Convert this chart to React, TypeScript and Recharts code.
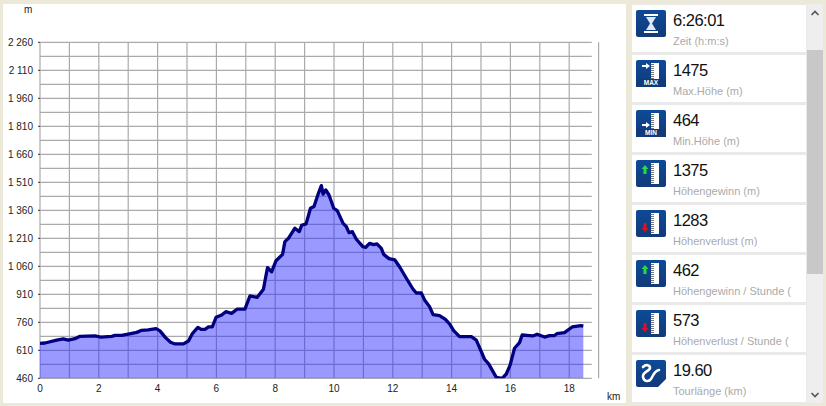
import React from 'react';
import { ComposedChart, Area, XAxis, YAxis, CartesianGrid } from 'recharts';

const distanceKm = [0,0.17,0.57,0.79,0.96,1.19,1.36,1.87,2.07,2.44,2.55,2.78,3,3.29,3.46,3.68,3.95,4.08,4.27,4.44,4.59,4.88,5.05,5.19,5.37,5.48,5.61,5.73,5.86,5.99,6.18,6.32,6.52,6.71,6.97,7.14,7.39,7.6,7.68,7.74,7.88,8.03,8.25,8.33,8.45,8.67,8.82,8.9,9.05,9.2,9.32,9.47,9.57,9.63,9.72,9.83,9.99,10.11,10.31,10.42,10.51,10.62,10.76,10.98,11.08,11.21,11.35,11.46,11.61,11.69,11.87,12.07,12.24,12.46,12.69,12.8,12.97,13.08,13.25,13.37,13.59,13.79,13.93,14.07,14.27,14.67,14.84,15.01,15.12,15.26,15.41,15.52,15.72,15.86,15.99,16.14,16.31,16.4,16.65,16.76,16.91,17.16,17.33,17.5,17.58,17.84,18.1,18.4,18.48];
const elevationM = [647,649,665,671,664,672,685,687,681,685,690,690,697,706,717,719,726,714,678,653,644,644,660,701,733,722,722,735,735,787,799,817,808,831,831,901,894,937,1005,1053,1031,1090,1124,1192,1210,1264,1246,1280,1287,1371,1380,1451,1492,1447,1469,1442,1371,1358,1290,1272,1240,1246,1205,1165,1162,1183,1176,1180,1156,1124,1101,1094,1055,996,937,917,917,880,844,801,796,776,751,715,683,683,665,603,562,537,496,465,460,483,531,621,651,692,689,687,696,681,689,689,699,705,735,742,739];
const yTicks = [460,610,760,910,1060,1210,1360,1510,1660,1810,1960,2110,2260];
const yGrid = [460,535,610,685,760,835,910,985,1060,1135,1210,1285,1360,1435,1510,1585,1660,1735,1810,1885,1960,2035,2110,2185,2260];
const xTicks = [0,2,4,6,8,10,12,14,16,18];
const xGrid = [0,1,2,3,4,5,6,7,8,9,10,11,12,13,14,15,16,17,18,19];
const statValues = ['6:26:01','1475','464','1375','1283','462','573','19.60'];
const statLabels = ['Zeit (h:m:s)','Max.Höhe (m)','Min.Höhe (m)','Höhengewinn (m)','Höhenverlust (m)','Höhengewinn / Stunde (','Höhenverlust / Stunde (','Tourlänge (km)'];
const statIcons = ['time','max','min','up','down','up','down','route'];

const rows = distanceKm.map((km, i) => ({ km, ele: elevationM[i] }));
const font = '"Liberation Sans", Arial, sans-serif';
const fmt = (v: number) => String(v).replace(/\B(?=(\d{3})+$)/g, ' ');

function Ruler({ x = 15 }: { x?: number }) {
  const marks = [];
  for (let i = 0; i < 10; i++) marks.push(<line key={i} x1={x} x2={x + 3} y1={4.5 + i * 2} y2={4.5 + i * 2} stroke="#555" strokeWidth={0.8} />);
  return <g><rect x={x} y={3} width={8} height={21} fill="#fff" />{marks}</g>;
}

function Icon({ kind, id }: { kind: string; id: number }) {
  return (
    <svg width={30} height={27} style={{ position: 'absolute', left: 4, top: 5 }}>
      <defs>
        <linearGradient id={'g' + id} x1="0" y1="0" x2="0" y2="1">
          <stop offset="0" stopColor="#0d4a98" />
          <stop offset="1" stopColor="#123a78" />
        </linearGradient>
      </defs>
      <rect width={30} height={27} rx={2} fill={`url(#g${id})`} />
      {kind === 'time' && <g fill="#fff"><rect x={8} y={4} width={14} height={2} /><rect x={8} y={21} width={14} height={2} /><path d="M10 7h10l-4 6.500 4 6.500H10l4-6.500z" fill="#dfe8f5" /></g>}
      {kind === 'max' && <g><Ruler x={15} /><path d="M6 5h4V3l4 3-4 3V7H6z" fill="#fff" /><rect x={0} y={19} width={30} height={8} fill="#123a78" /><text x={15} y={25} fontSize={6.5} fontWeight={700} fill="#fff" textAnchor="middle" fontFamily={font}>MAX</text></g>}
      {kind === 'min' && <g><Ruler x={15} /><path d="M6 14h4v-2l4 3-4 3v-2H6z" fill="#fff" /><rect x={0} y={19} width={30} height={8} fill="#123a78" /><text x={15} y={25} fontSize={6.5} fontWeight={700} fill="#fff" textAnchor="middle" fontFamily={font}>MIN</text></g>}
      {kind === 'up' && <g><Ruler x={15} /><path d="M9 5l3.500 4H10.500v5h-3V9H5.500z" fill="#22dd44" /></g>}
      {kind === 'down' && <g><Ruler x={15} /><path d="M7.500 13h3v5h2L9 22l-3.500-4h2z" fill="#e01020" /></g>}
      {kind === 'route' && <g fill="none" stroke="#fff" strokeWidth={2.6} strokeLinecap="round"><path d="M7 7c3-3 7-2 7 1s-8 4-7 9 6 5 8 2 3-8 8-9" /><path d="M22 27l8-8v8z" fill="#fff" stroke="none" /></g>}
    </svg>
  );
}

export default function App() {
  return (
    <div style={{ position: 'fixed', inset: 0, background: '#ece9d8', overflow: 'hidden', fontFamily: font }}>
      <div style={{ position: 'absolute', left: 3, top: 4, width: 623, height: 399, background: '#fff' }} />
      <div style={{ position: 'absolute', left: 0, top: 0 }}>
        <ComposedChart width={826} height={406} data={rows} margin={{ left: 0, right: 227.4, top: 42.3, bottom: 0 }}>
          <CartesianGrid
            stroke="#aaaaaa"
            strokeWidth={1.2}
            horizontalValues={yGrid}
            verticalValues={xGrid}
            horizontal={(p: any) => <line key={p.key ?? p.y1} x1={p.x1} x2={591.8} y1={p.y1} y2={p.y2} stroke="#aaaaaa" strokeWidth={1.2} />}
          />
          <XAxis dataKey="km" type="number" domain={[0, 19]} ticks={xTicks} height={27.7} axisLine={false} tickSize={2} tickMargin={5} tick={{ fontSize: 10, fill: '#222', fontFamily: font }} tickLine={false} interval={0} allowDataOverflow />
          <YAxis type="number" domain={[460, 2260]} ticks={yTicks} width={40} axisLine={false} tickSize={2} tickMargin={5} tickFormatter={fmt} tick={{ fontSize: 10, fill: '#222', fontFamily: font }} tickLine={{ stroke: '#333' }} interval={0} allowDataOverflow />
          <Area type="linear" dataKey="ele" baseValue={460} stroke="#000080" strokeWidth={3.3} strokeLinejoin="round" fill="rgb(38,38,255)" fillOpacity={0.47} isAnimationActive={false} dot={false} activeDot={false} />
        </ComposedChart>
      </div>
      <div style={{ position: 'absolute', left: 24, top: 4, fontSize: 10, lineHeight: '12px', color: '#222' }}>m</div>
      <div style={{ position: 'absolute', left: 607, top: 391, fontSize: 10, lineHeight: '12px', color: '#222' }}>km</div>

      <div style={{ position: 'absolute', left: 632, top: 4, width: 175, height: 399, background: '#e9e9e9' }} />
      {statValues.map((v, i) => (
        <div key={i} style={{ position: 'absolute', left: 632, top: 4.5 + i * 50, width: 174, height: 47, background: '#fff' }}>
          <Icon kind={statIcons[i]} id={i} />
          <div style={{ position: 'absolute', left: 41, top: 6, fontSize: 16.5, letterSpacing: -0.5, lineHeight: '19px', color: '#111', whiteSpace: 'nowrap' }}>{v}</div>
          <div style={{ position: 'absolute', left: 41, top: 29, fontSize: 11, lineHeight: '15px', color: '#aaa', whiteSpace: 'nowrap' }}>{statLabels[i]}</div>
        </div>
      ))}
      <div style={{ position: 'absolute', left: 807, top: 4, width: 16, height: 399, background: '#eeeeee' }} />
      <div style={{ position: 'absolute', left: 807, top: 50, width: 16, height: 224, background: '#c8c8c8' }} />
      <svg width={16} height={399} style={{ position: 'absolute', left: 807, top: 4 }}>
        <path d="M4.500 11l3.500-3.500 3.500 3.500" fill="none" stroke="#555" strokeWidth={1.6} />
        <path d="M4.500 389l3.500 3.500 3.500-3.500" fill="none" stroke="#555" strokeWidth={1.6} />
      </svg>
    </div>
  );
}
